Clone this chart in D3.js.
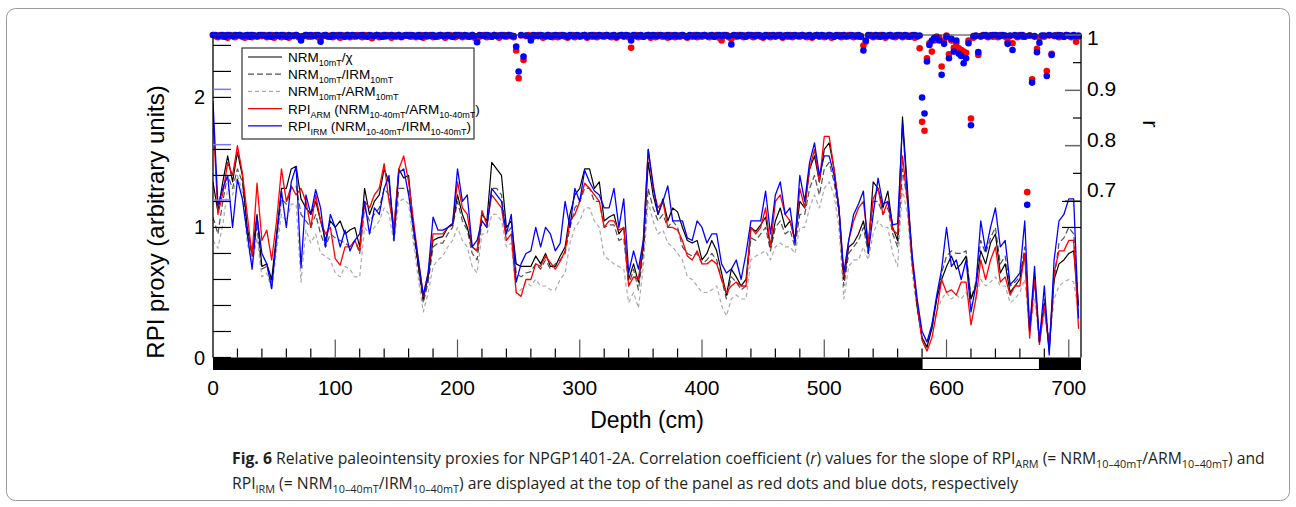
<!DOCTYPE html>
<html>
<head>
<meta charset="utf-8">
<script src="https://cdn.jsdelivr.net/npm/d3@7"></script>
<style>
  html, body { margin: 0; padding: 0; background: #fff; }
  svg { display: block; font-family: "Liberation Sans", Arial, sans-serif; }
</style>
</head>
<body>
<svg id="chart" width="1296" height="507"></svg>
<script>
// proxy curves are sampled every 4 cm, r values every 2 cm
const depths = d3.range(0, 712, 4);
const dotDepths = d3.range(0, 710, 2);

// NRM10mT/chi (black)
const nrmChi = [
  1.35,1.12,1.35,1.55,1.35,1.58,1.40,1.00,0.80,1.10,
  0.70,0.72,0.60,0.95,1.30,1.30,1.45,1.47,1.22,1.15,
  1.10,1.20,1.05,0.90,1.05,1.00,1.05,0.95,0.98,1.00,
  0.85,1.30,1.10,1.20,1.25,1.45,1.35,0.98,1.45,1.38,
  1.40,1.00,0.70,0.45,0.62,0.90,0.92,0.93,1.00,1.02,
  1.25,1.10,1.00,0.85,0.82,1.10,1.05,1.50,1.45,1.40,
  1.00,1.05,0.72,0.70,0.70,0.70,0.78,0.72,0.80,0.70,
  0.70,0.78,0.85,1.10,1.25,1.30,1.45,1.45,1.30,1.35,
  1.05,1.08,1.10,0.95,1.00,0.60,0.72,0.58,0.85,1.50,
  1.25,1.10,1.22,1.05,1.15,1.12,1.00,0.90,0.88,0.90,
  0.75,0.80,0.90,0.82,0.65,0.48,0.68,0.62,0.55,0.60,
  1.00,0.97,1.02,1.08,0.85,1.05,1.15,1.00,1.05,0.90,
  1.20,1.15,1.45,1.55,1.35,1.60,1.65,1.45,1.15,0.60,
  0.85,0.88,0.95,1.05,0.85,1.35,1.30,1.15,1.28,1.00,
  0.90,1.85,1.30,0.75,0.40,0.15,0.08,0.22,0.45,0.60,
  0.70,0.78,0.68,0.72,0.78,0.45,0.55,0.82,0.72,0.88,
  0.95,0.65,0.72,0.50,0.55,0.60,0.80,0.20,0.62,0.12,
  0.42,0.05,0.60,0.72,0.75,0.80,0.82,0.40
];

// NRM10mT/IRM10mT (dark dashed)
const nrmIrm = [
  1.08,0.95,1.20,1.40,1.30,1.45,1.35,0.95,0.78,1.00,
  0.68,0.70,0.58,0.90,1.22,1.18,1.30,1.32,1.10,1.05,
  1.00,1.10,0.95,0.85,0.95,0.92,0.90,0.88,0.85,0.90,
  0.80,1.15,1.05,1.10,1.15,1.30,1.25,0.95,1.30,1.30,
  1.28,0.95,0.68,0.42,0.58,0.85,0.88,0.88,0.95,1.00,
  1.20,1.05,0.98,0.80,0.75,1.05,1.00,1.30,1.30,1.25,
  0.95,1.00,0.65,0.62,0.65,0.66,0.72,0.68,0.75,0.68,
  0.72,0.75,0.80,1.00,1.15,1.20,1.30,1.30,1.20,1.20,
  1.00,1.02,1.02,0.90,0.92,0.55,0.68,0.52,0.80,1.30,
  1.15,1.05,1.10,1.00,1.05,1.00,0.85,0.80,0.78,0.80,
  0.72,0.75,0.80,0.75,0.60,0.45,0.62,0.58,0.52,0.55,
  0.92,0.90,0.95,1.00,0.82,1.00,1.05,0.95,0.98,0.85,
  1.10,1.10,1.30,1.40,1.25,1.45,1.50,1.35,1.10,0.55,
  0.80,0.85,0.90,1.00,0.80,1.20,1.20,1.10,1.15,0.95,
  0.85,1.45,1.20,0.72,0.38,0.15,0.08,0.25,0.45,0.65,
  0.78,0.82,0.80,0.80,0.82,0.45,0.58,0.90,0.80,0.92,
  1.00,0.72,0.78,0.55,0.58,0.62,0.85,0.22,0.62,0.12,
  0.45,0.10,0.60,0.88,0.92,1.00,0.95,0.38
];

// NRM10mT/ARM10mT (light dashed)
const nrmArm = [
  0.90,0.84,1.02,1.30,1.25,1.40,1.28,0.88,0.72,0.92,
  0.62,0.65,0.52,0.82,1.10,1.05,1.18,1.18,0.58,0.98,
  0.88,0.95,0.80,0.78,0.75,0.65,0.62,0.70,0.68,0.62,
  0.62,1.00,0.95,1.00,1.05,1.15,1.10,0.88,1.20,1.22,
  1.18,0.88,0.60,0.35,0.50,0.70,0.75,0.78,0.85,0.90,
  1.00,0.90,0.85,0.70,0.65,0.95,0.95,1.10,1.10,1.05,
  0.85,0.88,0.50,0.52,0.58,0.55,0.60,0.55,0.55,0.52,
  0.52,0.60,0.65,0.88,1.00,1.05,1.15,1.15,1.05,1.00,
  0.78,0.75,0.72,0.70,0.68,0.42,0.50,0.38,0.70,1.20,
  1.05,0.95,0.98,0.88,0.85,0.80,0.75,0.62,0.60,0.55,
  0.50,0.50,0.52,0.55,0.40,0.32,0.45,0.48,0.45,0.45,
  0.75,0.78,0.80,0.82,0.75,0.85,0.88,0.85,0.85,0.80,
  1.00,1.00,1.15,1.25,1.15,1.30,1.35,1.25,1.00,0.45,
  0.70,0.75,0.75,0.85,0.75,0.95,1.05,1.00,1.00,0.80,
  0.70,1.30,1.10,0.65,0.35,0.15,0.10,0.22,0.35,0.45,
  0.50,0.45,0.48,0.45,0.50,0.40,0.45,0.60,0.55,0.58,
  0.62,0.55,0.55,0.42,0.45,0.50,0.60,0.20,0.45,0.12,
  0.35,0.10,0.45,0.55,0.58,0.60,0.58,0.35
];

// RPI_ARM (red)
const rpiArm = [
  1.85,1.10,1.26,1.50,1.40,1.63,1.42,1.10,0.78,1.34,
  0.90,0.98,0.75,1.05,1.45,1.20,1.32,1.25,1.30,1.20,
  1.00,1.25,1.05,0.95,1.00,0.76,0.71,0.85,0.85,0.90,
  0.82,1.20,1.15,1.25,1.30,1.49,1.20,1.00,1.45,1.55,
  1.35,1.05,0.75,0.47,0.65,0.95,0.95,0.95,1.00,1.03,
  1.35,1.15,1.10,0.85,0.82,1.13,1.02,1.25,1.20,1.15,
  0.90,0.95,0.50,0.47,0.60,0.60,0.72,0.70,0.78,0.73,
  0.68,0.74,0.82,1.05,1.10,1.20,1.34,1.30,1.25,1.20,
  1.00,1.05,1.05,0.98,1.00,0.55,0.62,0.60,0.90,1.60,
  1.30,1.15,1.20,1.00,1.00,0.98,0.90,0.78,0.75,0.82,
  0.72,0.72,0.75,0.72,0.60,0.50,0.55,0.58,0.55,0.55,
  1.00,0.95,1.00,1.15,0.85,1.20,1.25,1.10,1.05,0.90,
  1.30,1.15,1.45,1.60,1.35,1.70,1.70,1.45,1.15,0.62,
  0.90,1.05,1.15,1.20,0.88,1.22,1.30,1.10,1.20,0.98,
  0.95,1.55,1.20,0.72,0.42,0.13,0.05,0.15,0.35,0.60,
  0.50,0.52,0.48,0.58,0.58,0.25,0.45,0.75,0.60,0.75,
  0.85,0.58,0.62,0.48,0.55,0.55,0.80,0.15,0.60,0.10,
  0.40,0.08,0.65,0.82,0.82,0.90,0.90,0.22
];

// RPI_IRM (blue)
const rpiIrm = [
  1.97,1.17,1.30,1.40,1.00,1.37,1.22,0.95,0.68,1.08,
  0.80,0.72,0.53,0.92,1.28,1.00,1.35,1.47,0.69,1.25,
  1.10,1.29,1.15,0.85,1.10,1.00,0.85,0.98,0.82,0.90,
  0.95,1.20,0.95,1.15,1.10,1.30,1.40,0.90,1.42,1.45,
  1.25,1.00,0.75,0.48,0.65,1.08,0.98,0.98,1.00,1.03,
  1.45,1.20,1.25,0.85,0.90,1.05,1.00,1.30,1.25,1.20,
  0.95,1.10,0.58,0.72,0.80,0.82,1.00,0.85,1.00,0.95,
  0.82,0.88,1.20,1.00,1.30,1.20,1.44,1.35,1.28,1.25,
  1.15,1.15,1.30,1.00,1.22,0.65,0.82,0.68,0.90,1.60,
  1.33,1.10,1.20,1.32,1.05,1.05,1.05,0.92,0.90,1.05,
  1.00,0.88,0.95,0.95,0.72,0.65,0.68,0.75,0.60,0.80,
  1.05,1.05,1.05,1.28,0.95,1.25,1.35,1.10,1.15,0.88,
  1.40,1.20,1.50,1.65,1.40,1.55,1.55,1.40,1.15,0.65,
  0.90,1.10,1.18,1.28,0.80,1.10,1.38,1.18,1.20,1.02,
  1.03,1.80,1.25,0.78,0.45,0.20,0.12,0.25,0.48,0.68,
  1.00,0.70,0.75,0.60,0.75,0.35,0.55,1.05,0.82,1.00,
  1.15,0.85,0.90,0.56,0.60,0.65,1.05,0.21,0.70,0.12,
  0.55,0.02,0.75,1.05,1.10,1.22,1.22,0.30
];

// correlation coefficient r of the RPI_ARM slope (red dots)
const rArm = [
  1,.998,.996,1,.997,.999,.995,1,.998,.996,.999,1,.997,.995,.998,1,.996,.999,.997,.998,
  .998,1,.996,.997,1,.995,.998,.999,.996,1,.997,.995,.999,.998,1,.996,.996,.998,1,.997,
  .997,.999,1,.996,.995,.998,1,.997,.999,.996,.998,1,.995,.997,.999,1,.996,.998,.997,1,
  .998,.996,1,.999,.997,.994,.998,1,.996,.999,.997,1,.998,.995,.999,.997,1,.996,.998,.999,
  1,.997,.999,.996,.998,1,.995,.997,.999,1,.996,.998,.997,1,.999,.995,.998,1,.997,.996,
  .998,1,.996,.999,.997,.998,1,.995,.988,.997,.999,1,.996,.998,.997,1,.999,.995,.998,1,
  .997,1,.998,.996,.972,.922,.999,.955,.998,1,.996,.997,.999,1,.998,.995,.997,1,.999,.996,
  .998,.996,1,.999,.997,.995,.998,1,.996,.999,.997,.998,1,.995,.999,.997,1,.996,.998,.999,
  .997,1,.998,.996,.999,.995,.998,1,.997,.999,.996,.977,.998,1,.996,.999,.997,.998,1,.995,
  .999,.996,1,.998,.997,.999,.995,1,.998,.996,.999,.997,1,.998,.995,.999,.997,1,.996,.998,
  .997,1,.998,.996,.999,.997,1,.995,.99,.998,1,.996,.993,.999,.997,1,.998,.996,.999,1,
  .998,.996,1,.999,.997,.995,.998,1,.996,.999,.997,1,.998,.995,.999,.997,1,.996,.998,.999,
  .997,1,.998,.996,.999,.995,.998,1,.997,.999,.996,.998,1,.995,.997,.999,1,.996,.998,.997,
  1,.998,.996,.999,.997,.998,.981,.988,.999,1,.996,.998,.997,1,.999,.995,.998,1,.997,.996,
  .998,1,.996,.999,.997,.998,1,.995,.997,.976,.843,.827,.958,.985,.97,.99,.997,.995,.943,.99,
  .999,.965,.99,.977,.985,.976,.973,.97,.968,.99,.849,.995,.998,.964,.997,1,.998,.996,.999,.997,
  .998,.996,1,.999,.997,.988,.998,.985,.999,.996,1,.997,.998,.716,.999,.92,.997,.975,.995,.998,
  .997,.935,.999,.966,.998,1,.996,.999,.997,1,.998,.996,.999,.988,.997
];

// correlation coefficient r of the RPI_IRM slope (blue dots)
const rIrm = [
  1,1,.998,.999,1,.997,1,.999,.998,1,.999,1,.998,.999,1,.997,1,.999,.998,1,
  1,.999,.998,1,.997,.999,1,.998,1,.999,.997,1,.998,.999,1,.998,.99,.998,1,.999,
  1,.998,.999,1,.988,.999,1,.998,.997,1,.999,.998,1,.999,.997,1,.998,1,.999,.998,
  .999,1,.998,.997,1,.999,.998,1,.999,.997,1,.998,.999,1,.998,.999,1,.997,.999,1,
  .998,1,.999,.998,1,.997,.999,1,.998,.999,1,.997,.999,1,.998,.999,1,.998,.997,1,
  1,.999,.998,1,.999,.997,1,.998,.987,1,.999,.998,1,.999,.997,1,.998,.999,1,.998,
  .999,1,.999,.998,.979,.934,1,.961,.999,.998,.99,1,.999,.998,1,.999,.998,1,.997,.999,
  1,.999,.998,1,.999,.997,1,.998,.999,1,.998,.999,1,.997,.999,1,.998,.999,1,.998,
  .999,1,.998,.999,1,.997,.999,1,.998,1,.999,.99,1,.998,.999,1,.997,.999,1,.998,
  1,.999,.998,1,.999,.998,1,.997,.999,1,.998,.999,1,.998,.997,1,.999,.998,1,.999,
  .999,1,.998,.999,1,.997,.999,1,.998,1,.999,.998,.983,1,.999,.998,1,.999,.997,1,
  1,.999,.998,1,.999,.997,1,.998,.999,1,.998,.999,1,.997,.999,1,.998,.999,1,.998,
  .999,1,.998,.999,1,.997,.999,1,.998,1,.999,.998,1,.999,.997,1,.998,.999,1,.998,
  .998,1,.999,.998,1,.997,.972,.99,1,.999,.998,1,.999,.997,1,.998,.999,1,.998,.999,
  1,.999,.998,1,.999,.997,.999,1,.998,.999,.887,.858,.952,.982,.99,.995,.995,.99,.928,.984,
  .997,.958,.993,.970,.99,.966,.962,.949,.958,.985,.837,.998,.999,.969,.998,.999,1,.998,.999,1,
  1,.999,.998,1,.999,.984,.999,.973,1,.998,.999,1,.997,.693,.999,.914,.998,.969,.986,.999,
  .999,.926,1,.964,.999,.998,1,.999,.997,1,.999,.998,1,.998,.999
];

// axes
const xTicks = d3.range(0, 701, 20);
const xLabels = [0, 100, 200, 300, 400, 500, 600, 700];
const yTicks = [0, 0.2, 0.4, 0.6, 0.8, 1, 1.2, 1.4, 1.6, 1.8, 2, 2.2, 2.4];
const yLabels = [0, 1, 2];
const rMajor = [0.7, 0.8, 0.9, 1];
const rMinor = [0.75, 0.85, 0.95];
const rLabels = [1, 0.9, 0.8, 0.7];
// intervals drawn white in the depth bar (cm)
const whiteBar = [[580, 676]];

const series = [
  { key: 'nrmArm', values: nrmArm, color: '#aaaaaa', dash: '4,3', width: 1.2 },
  { key: 'nrmIrm', values: nrmIrm, color: '#505050', dash: '6,3', width: 1.2 },
  { key: 'nrmChi', values: nrmChi, color: '#000000', dash: null, width: 1.2 },
  { key: 'rpiArm', values: rpiArm, color: '#ff0000', dash: null, width: 1.3 },
  { key: 'rpiIrm', values: rpiIrm, color: '#0000ff', dash: null, width: 1.3 }
];

const legendRows = [
  { key: 'nrmChi', parts: [['NRM', ''], ['10mT', 'sub'], ['/χ', '']] },
  { key: 'nrmIrm', parts: [['NRM', ''], ['10mT', 'sub'], ['/IRM', ''], ['10mT', 'sub']] },
  { key: 'nrmArm', parts: [['NRM', ''], ['10mT', 'sub'], ['/ARM', ''], ['10mT', 'sub']] },
  { key: 'rpiArm', parts: [['RPI', ''], ['ARM', 'sub'], [' (NRM', ''], ['10-40mT', 'sub'], ['/ARM', ''], ['10-40mT', 'sub'], [')', '']] },
  { key: 'rpiIrm', parts: [['RPI', ''], ['IRM', 'sub'], [' (NRM', ''], ['10-40mT', 'sub'], ['/IRM', ''], ['10-40mT', 'sub'], [')', '']] }
];

const svg = d3.select('#chart');

const x = d3.scaleLinear().domain([0, 710]).range([213, 1081]);
const y = d3.scaleLinear().domain([0, 2.48]).range([357.5, 35]);
const yr = d3.scaleLinear().domain([0.7, 1]).range([201, 35]);
// the r labels in the source sit a little above their ticks
const yrLabel = d3.scaleLinear().domain([0.7, 1]).range([190, 38]);

function richText(sel, parts, subSize, shift) {
  let cur = 0;
  parts.forEach(([txt, st]) => {
    const ts = sel.append('tspan').text(txt);
    const want = st === 'sub' ? shift : 0;
    if (want !== cur) { ts.attr('dy', want - cur); cur = want; }
    if (st === 'sub') ts.attr('font-size', subSize);
    if (st === 'b') ts.attr('font-weight', 'bold');
    if (st === 'i') ts.attr('font-style', 'italic');
  });
}

// card border
svg.append('rect')
  .attr('x', 6.5).attr('y', 8.5).attr('width', 1283).attr('height', 492)
  .attr('rx', 9).attr('fill', 'none').attr('stroke', '#9a9a9a');

svg.append('clipPath').attr('id', 'plot')
  .append('rect')
  .attr('x', x(0)).attr('y', y.range()[1])
  .attr('width', x(710) - x(0)).attr('height', y(0) - y.range()[1]);

// depth bar under the plot
svg.append('rect')
  .attr('x', x(0)).attr('y', y(0))
  .attr('width', x(710) - x(0)).attr('height', 12.5)
  .attr('fill', '#000');
svg.selectAll('.wbar').data(whiteBar).join('rect')
  .attr('x', d => x(d[0]) + 0.5).attr('y', y(0) + 1.5)
  .attr('width', d => x(d[1]) - x(d[0]) - 1).attr('height', 10)
  .attr('fill', '#fff');

// curves
const line = d3.line()
  .x((d, i) => x(depths[i]))
  .y(d => y(d));

svg.append('g').attr('clip-path', 'url(#plot)')
  .selectAll('path')
  .data(series)
  .join('path')
  .attr('d', d => line(d.values))
  .attr('fill', 'none')
  .attr('stroke', d => d.color)
  .attr('stroke-width', d => d.width)
  .attr('stroke-dasharray', d => d.dash)
  .attr('stroke-linejoin', 'round');

// r dots
svg.append('g').selectAll('circle')
  .data(rArm)
  .join('circle')
  .attr('cx', (d, i) => x(dotDepths[i]))
  .attr('cy', d => yr(d))
  .attr('r', 3.3)
  .attr('fill', '#ff0000');
svg.append('g').selectAll('circle')
  .data(rIrm)
  .join('circle')
  .attr('cx', (d, i) => x(dotDepths[i]))
  .attr('cy', d => yr(d))
  .attr('r', 3.3)
  .attr('fill', '#0000ff');

// frame lines
const frame = svg.append('g').attr('stroke', '#000').attr('stroke-width', 1.3);
frame.append('line').attr('x1', x(0)).attr('x2', x(0)).attr('y1', y.range()[1]).attr('y2', y(0));
frame.append('line').attr('x1', x(710)).attr('x2', x(710)).attr('y1', y.range()[1]).attr('y2', y(0));
frame.append('line').attr('x1', x(0)).attr('x2', x(710)).attr('y1', y.range()[1]).attr('y2', y.range()[1])
  .attr('stroke', '#333').attr('stroke-width', 1);

// left ticks (RPI) pointing inward
svg.append('g').selectAll('line').data(yTicks).join('line')
  .attr('x1', x(0)).attr('x2', x(0) + 18)
  .attr('y1', d => y(d)).attr('y2', d => y(d))
  .attr('stroke', '#000').attr('stroke-width', 1.2);
// r major ticks repeated on the left in blue
svg.append('g').selectAll('line').data([0.7, 0.8, 0.9]).join('line')
  .attr('x1', x(0)).attr('x2', x(0) + 18)
  .attr('y1', d => yr(d) - 1).attr('y2', d => yr(d) - 1)
  .attr('stroke', '#7878ff').attr('stroke-width', 1.5);
svg.append('g').selectAll('text').data(yLabels).join('text')
  .attr('x', x(0) - 8).attr('y', d => y(d))
  .attr('dy', '0.35em').attr('text-anchor', 'end')
  .attr('font-size', 20).attr('fill', '#000')
  .text(d => d);

// right ticks: r axis, plus RPI 1.0 / 1.2
svg.append('g').selectAll('line').data(rMajor).join('line')
  .attr('x1', x(710) - 16).attr('x2', x(710))
  .attr('y1', d => yr(d)).attr('y2', d => yr(d))
  .attr('stroke', '#666').attr('stroke-width', 1.5);
svg.append('g').selectAll('line').data(rMinor).join('line')
  .attr('x1', x(710) - 8).attr('x2', x(710))
  .attr('y1', d => yr(d)).attr('y2', d => yr(d))
  .attr('stroke', '#000').attr('stroke-width', 1.2);
svg.append('g').selectAll('line').data([1, 1.2]).join('line')
  .attr('x1', x(710) - 19).attr('x2', x(710))
  .attr('y1', d => y(d)).attr('y2', d => y(d))
  .attr('stroke', '#000').attr('stroke-width', 1.2);
svg.append('g').selectAll('text').data(rLabels).join('text')
  .attr('x', x(710) + 6).attr('y', d => yrLabel(d))
  .attr('dy', '0.35em').attr('font-size', 21).attr('fill', '#000')
  .text(d => d);

// bottom ticks pointing up from the bar
svg.append('g').selectAll('line').data(xTicks).join('line')
  .attr('x1', d => x(d)).attr('x2', d => x(d))
  .attr('y1', y(0))
  .attr('y2', d => y(0) - (d % 100 === 0 ? 18 : 9))
  .attr('stroke', d => d % 100 === 0 ? '#555' : '#000')
  .attr('stroke-width', 1.2);
svg.append('g').selectAll('text').data(xLabels).join('text')
  .attr('x', d => x(d)).attr('y', 395)
  .attr('text-anchor', 'middle').attr('font-size', 21).attr('fill', '#000')
  .text(d => d);

// axis titles
svg.append('text')
  .attr('transform', 'translate(164,222) rotate(-90)')
  .attr('text-anchor', 'middle').attr('font-size', 24).attr('fill', '#000')
  .text('RPI proxy (arbitrary units)');
svg.append('text')
  .attr('transform', 'translate(1143,124) rotate(90)')
  .attr('text-anchor', 'middle').attr('font-size', 22).attr('fill', '#000')
  .text('r');
svg.append('text')
  .attr('x', (x(0) + x(710)) / 2).attr('y', 428)
  .attr('text-anchor', 'middle').attr('font-size', 23).attr('fill', '#000')
  .text('Depth (cm)');

// legend
const leg = svg.append('g');
leg.append('rect')
  .attr('x', 242).attr('y', 48).attr('width', 232).attr('height', 91)
  .attr('fill', '#fff').attr('stroke', '#333').attr('stroke-width', 1.2);
const byKey = Object.fromEntries(series.map(s => [s.key, s]));
legendRows.forEach((row, i) => {
  const s = byKey[row.key];
  const cy = 57 + i * 17.2;
  leg.append('line')
    .attr('x1', 248).attr('x2', 282).attr('y1', cy).attr('y2', cy)
    .attr('stroke', s.color).attr('stroke-width', s.width)
    .attr('stroke-dasharray', s.dash);
  const t = leg.append('text').attr('x', 288).attr('y', cy + 5)
    .attr('font-size', 13.5).attr('fill', '#000');
  richText(t, row.parts, 9, 4);
});

// caption: narrow face, squeezed horizontally by one common factor
const cap = svg.append('g')
  .attr('font-family', '"Liberation Sans Narrow", "Open Sans", sans-serif')
  .attr('font-size', 16).attr('fill', '#231f20');
const cap1 = cap.append('text').attr('x', 0).attr('y', 0);
richText(cap1, [
  ['Fig. 6', 'b'], ['  Relative paleointensity proxies for NPGP1401-2A. Correlation coefficient (', ''],
  ['r', 'i'], [') values for the slope of RPI', ''], ['ARM', 'sub'], [' (= NRM', ''], ['10–40mT', 'sub'],
  ['/ARM', ''], ['10–40mT', 'sub'], [') and', '']
], 11, 4);
const cap2 = cap.append('text').attr('x', 0).attr('y', 0);
richText(cap2, [
  ['RPI', ''], ['IRM', 'sub'], [' (= NRM', ''], ['10–40mT', 'sub'], ['/IRM', ''], ['10–40mT', 'sub'],
  [') are displayed at the top of the panel as red dots and blue dots, respectively', '']
], 11, 4);
const k = Math.min(1, 1034 / cap1.node().getComputedTextLength());
cap1.attr('transform', `translate(232,464) scale(${k},1)`);
cap2.attr('transform', `translate(232,489) scale(${k},1)`);
</script>
</body>
</html>
